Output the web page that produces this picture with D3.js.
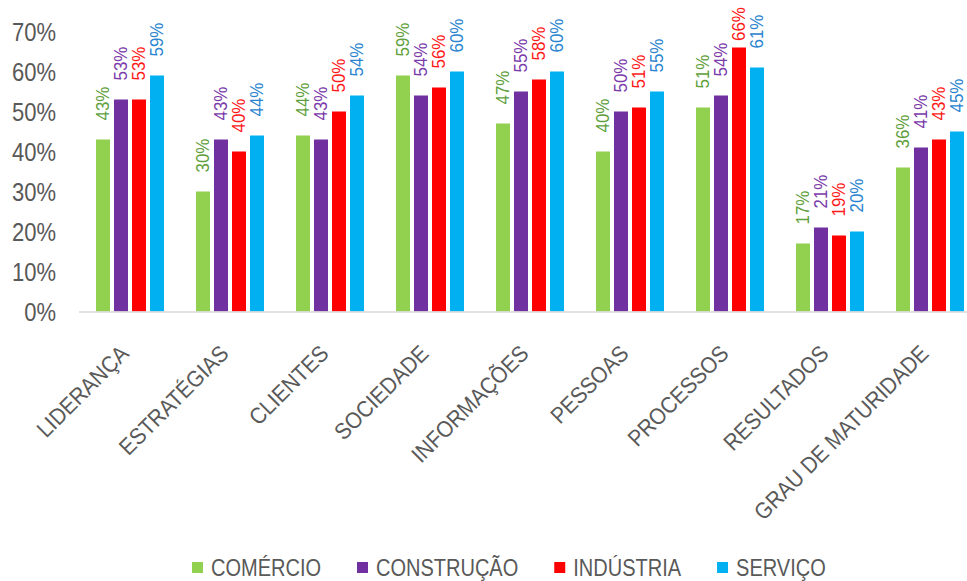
<!DOCTYPE html>
<html>
<head>
<meta charset="utf-8">
<script src="https://cdn.jsdelivr.net/npm/d3@7"></script>
<style>
  html, body { margin: 0; padding: 0; background: #fff; }
  svg { display: block; }
  text { font-family: "Liberation Sans", Arial, sans-serif; }
</style>
</head>
<body>
<svg id="chart" width="967" height="581"></svg>
<script>
// Categories (dimensions of maturity) and sector series, values in percent
const categories = ["LIDERANÇA", "ESTRATÉGIAS", "CLIENTES", "SOCIEDADE", "INFORMAÇÕES",
                    "PESSOAS", "PROCESSOS", "RESULTADOS", "GRAU DE MATURIDADE"];
const seriesNames = ["COMÉRCIO", "CONSTRUÇÃO", "INDÚSTRIA", "SERVIÇO"];
const comercio    = [43, 30, 44, 59, 47, 40, 51, 17, 36];
const construcao  = [53, 43, 43, 54, 55, 50, 54, 21, 41];
const industria   = [53, 40, 50, 56, 58, 51, 66, 19, 43];
const servico     = [59, 44, 54, 60, 60, 55, 61, 20, 45];
const yTicks = [0, 10, 20, 30, 40, 50, 60, 70];

const barColors   = ["#92d050", "#7030a0", "#ff0000", "#00b0f0"];
const labelColors = ["#5f9f3c", "#7a3aaa", "#ff1a1a", "#2a84cf"];

// Horizontal squeeze applied to text to get a narrow, Calibri-like set width
const TICK_SX = 0.88, VAL_SX = 0.94, CAT_SX = 0.9, LEG_SX = 0.87;

const seriesValues = [comercio, construcao, industria, servico];
const rows = categories.map((c, i) => ({
  category: c,
  values: seriesNames.map((s, j) => ({ series: s, idx: j, value: seriesValues[j][i] }))
}));

const svg = d3.select("#chart");

const x0 = d3.scaleBand().domain(categories).range([80, 980]).padding(0);
const x1 = d3.scaleBand().domain(seriesNames).range([16, 84]).paddingInner(4 / 18).paddingOuter(0);
const y = d3.scaleLinear().domain([0, 70]).range([311.5, 31.5]);

// Y axis labels (no axis line, no gridlines)
const yAxis = d3.axisLeft(y).tickValues(yTicks).tickFormat(d => d + "%").tickSize(0).tickPadding(0);
const gy = svg.append("g").attr("transform", "translate(56,0)").call(yAxis);
gy.select(".domain").remove();
gy.selectAll("text")
  .attr("x", 0)
  .attr("fill", "#595959")
  .style("font-size", "25px")
  .attr("dy", "0.36em")
  .attr("transform", `scale(${TICK_SX},1)`);

// Bars
const groups = svg.append("g").selectAll("g")
  .data(rows).join("g")
  .attr("transform", d => `translate(${x0(d.category)},0)`);

groups.selectAll("rect")
  .data(d => d.values).join("rect")
  .attr("x", d => x1(d.series))
  .attr("width", x1.bandwidth())
  .attr("y", d => y(d.value))
  .attr("height", d => y(0) - y(d.value))
  .attr("fill", d => barColors[d.idx]);

// Value labels, rotated, kept inside the top of the plot
groups.selectAll("text.val")
  .data(d => d.values).join("text")
  .attr("class", "val")
  .attr("transform", d => {
    const cx = x1(d.series) + x1.bandwidth() / 2;
    const start = Math.max(y(d.value) - 19, 41);
    return `translate(${cx},${start}) rotate(-90) scale(${VAL_SX},1)`;
  })
  .attr("dy", "0.36em")
  .attr("text-anchor", "start")
  .attr("fill", d => labelColors[d.idx])
  .style("font-size", "18px")
  .text(d => d.value + "%");

// Category axis baseline
svg.append("line")
  .attr("x1", 79).attr("x2", 980)
  .attr("y1", y(0) + 0.5).attr("y2", y(0) + 0.5)
  .attr("stroke", "#d9d9d9").attr("stroke-width", 1.6);

// Category labels at -45°
const xAxis = d3.axisBottom(x0).tickSize(0).tickPadding(0);
const gx = svg.append("g").attr("transform", "translate(0,355)").call(xAxis);
gx.select(".domain").remove();
gx.selectAll("text")
  .attr("fill", "#595959")
  .style("font-size", "23px")
  .attr("text-anchor", "end")
  .attr("dy", 0)
  .attr("y", 0)
  .attr("transform", `rotate(-45) scale(${CAT_SX},1)`);

// Legend
const legend = svg.append("g").attr("transform", "translate(192,568)");
let lx = 0;
seriesNames.forEach((name, i) => {
  const item = legend.append("g").attr("transform", `translate(${lx},0)`);
  item.append("rect")
    .attr("x", 0).attr("y", -6).attr("width", 11).attr("height", 11)
    .attr("fill", barColors[i]);
  const t = item.append("text")
    .attr("x", 0).attr("y", 0).attr("dy", "0.36em")
    .attr("transform", `translate(19,0) scale(${LEG_SX},1)`)
    .attr("fill", "#595959")
    .style("font-size", "23px")
    .text(name);
  lx += 19 + t.node().getComputedTextLength() * LEG_SX + 36;
});
</script>
</body>
</html>
